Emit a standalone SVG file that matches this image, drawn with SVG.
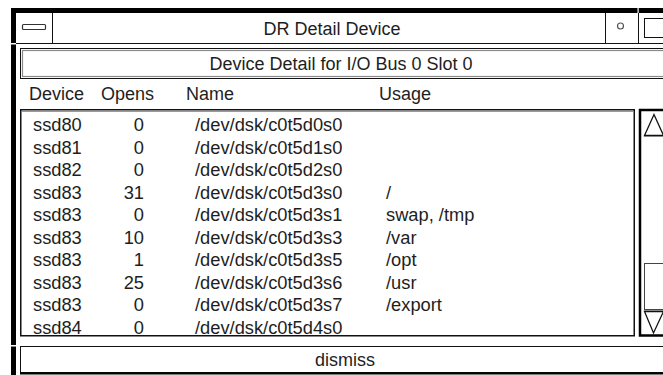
<svg xmlns="http://www.w3.org/2000/svg" width="663" height="375" viewBox="0 0 663 375">
<style>
text{font-family:"Liberation Sans",Arial,Helvetica,sans-serif;fill:#1e1e1e}
.t{font-size:18px}
.r{font-size:18.3px}
.end{text-anchor:end}
.mid{text-anchor:middle}
.thin{fill:none;stroke:#111;stroke-width:1}
.gray{fill:none;stroke:#8a8a8a;stroke-width:1.2}
</style>
<rect width="663" height="375" fill="#fff"/>
<g id="frame">
<rect x="11" y="8" width="652" height="5" fill="#000"/>
<rect x="11" y="8" width="5" height="367" fill="#000"/>
<rect x="11" y="43" width="5" height="1.5" fill="#fff"/>
<rect x="11" y="345" width="5" height="1.5" fill="#fff"/>
<rect x="637.5" y="8" width="1.2" height="5" fill="#fff"/>
</g>
<g id="titlebar">
<line x1="16" y1="43.5" x2="663" y2="43.5" class="thin"/>
<line x1="52.5" y1="13" x2="52.5" y2="43" class="thin"/>
<line x1="605.5" y1="13" x2="605.5" y2="43" class="thin"/>
<line x1="638.5" y1="13" x2="638.5" y2="43" class="thin"/>
<rect x="22.5" y="24.5" width="23" height="5" rx="1" fill="#fff" stroke="#333" stroke-width="1.2"/>
<circle cx="620.5" cy="26" r="3" fill="none" stroke="#555" stroke-width="1.2"/>
<rect x="644.5" y="18.5" width="30" height="19" class="thin"/>
<text x="332" y="35" class="t mid">DR Detail Device</text>
</g>
<g id="header">
<rect x="20.5" y="48.5" width="660" height="30" class="thin"/>
<rect x="22.5" y="50.5" width="656" height="26" class="gray"/>
<text x="341" y="70" class="t mid">Device Detail for I/O Bus 0 Slot 0</text>
</g>
<g id="columns">
<text x="29" y="100" class="t">Device</text>
<text x="101" y="100" class="t">Opens</text>
<text x="186" y="100" class="t">Name</text>
<text x="379" y="100" class="t">Usage</text>
</g>
<g id="list">
<rect x="20.75" y="109.75" width="613.5" height="226" fill="none" stroke="#111" stroke-width="1.5"/>
<line x1="22" y1="111.5" x2="633" y2="111.5" stroke="#999" stroke-width="1"/>
<g class="r">
<text x="33" y="131">ssd80</text><text x="144" y="131" class="end">0</text><text x="195" y="131">/dev/dsk/c0t5d0s0</text>
<text x="33" y="153.5">ssd81</text><text x="144" y="153.5" class="end">0</text><text x="195" y="153.5">/dev/dsk/c0t5d1s0</text>
<text x="33" y="176">ssd82</text><text x="144" y="176" class="end">0</text><text x="195" y="176">/dev/dsk/c0t5d2s0</text>
<text x="33" y="198.5">ssd83</text><text x="144" y="198.5" class="end">31</text><text x="195" y="198.5">/dev/dsk/c0t5d3s0</text><text x="386" y="198.5">/</text>
<text x="33" y="221">ssd83</text><text x="144" y="221" class="end">0</text><text x="195" y="221">/dev/dsk/c0t5d3s1</text><text x="386" y="221">swap, /tmp</text>
<text x="33" y="243.5">ssd83</text><text x="144" y="243.5" class="end">10</text><text x="195" y="243.5">/dev/dsk/c0t5d3s3</text><text x="386" y="243.5">/var</text>
<text x="33" y="266">ssd83</text><text x="144" y="266" class="end">1</text><text x="195" y="266">/dev/dsk/c0t5d3s5</text><text x="386" y="266">/opt</text>
<text x="33" y="288.5">ssd83</text><text x="144" y="288.5" class="end">25</text><text x="195" y="288.5">/dev/dsk/c0t5d3s6</text><text x="386" y="288.5">/usr</text>
<text x="33" y="311">ssd83</text><text x="144" y="311" class="end">0</text><text x="195" y="311">/dev/dsk/c0t5d3s7</text><text x="386" y="311">/export</text>
<text x="33" y="333.5">ssd84</text><text x="144" y="333.5" class="end">0</text><text x="195" y="333.5">/dev/dsk/c0t5d4s0</text>
</g>
</g>
<g id="scrollbar">
<rect x="640" y="110" width="30" height="225.5" fill="none" stroke="#000" stroke-width="2.5"/>
<polygon points="644.5,135.5 654,114.5 663.5,135.5" fill="none" stroke="#111" stroke-width="1.3"/>
<line x1="644" y1="136.5" x2="663" y2="136.5" stroke="#888" stroke-width="1"/>
<rect x="644.5" y="263.5" width="20" height="46" fill="none" stroke="#444" stroke-width="1"/>
<polygon points="644.5,311.5 663.5,311.5 653.5,333" fill="none" stroke="#111" stroke-width="1.3"/>
<line x1="644" y1="310.5" x2="663" y2="310.5" stroke="#888" stroke-width="1"/>
</g>
<g id="dismiss">
<rect x="20.5" y="346.5" width="660" height="26" class="thin"/>
<line x1="20" y1="373.5" x2="663" y2="373.5" stroke="#000" stroke-width="2"/>
<text x="345" y="366" class="t mid">dismiss</text>
</g>
</svg>
